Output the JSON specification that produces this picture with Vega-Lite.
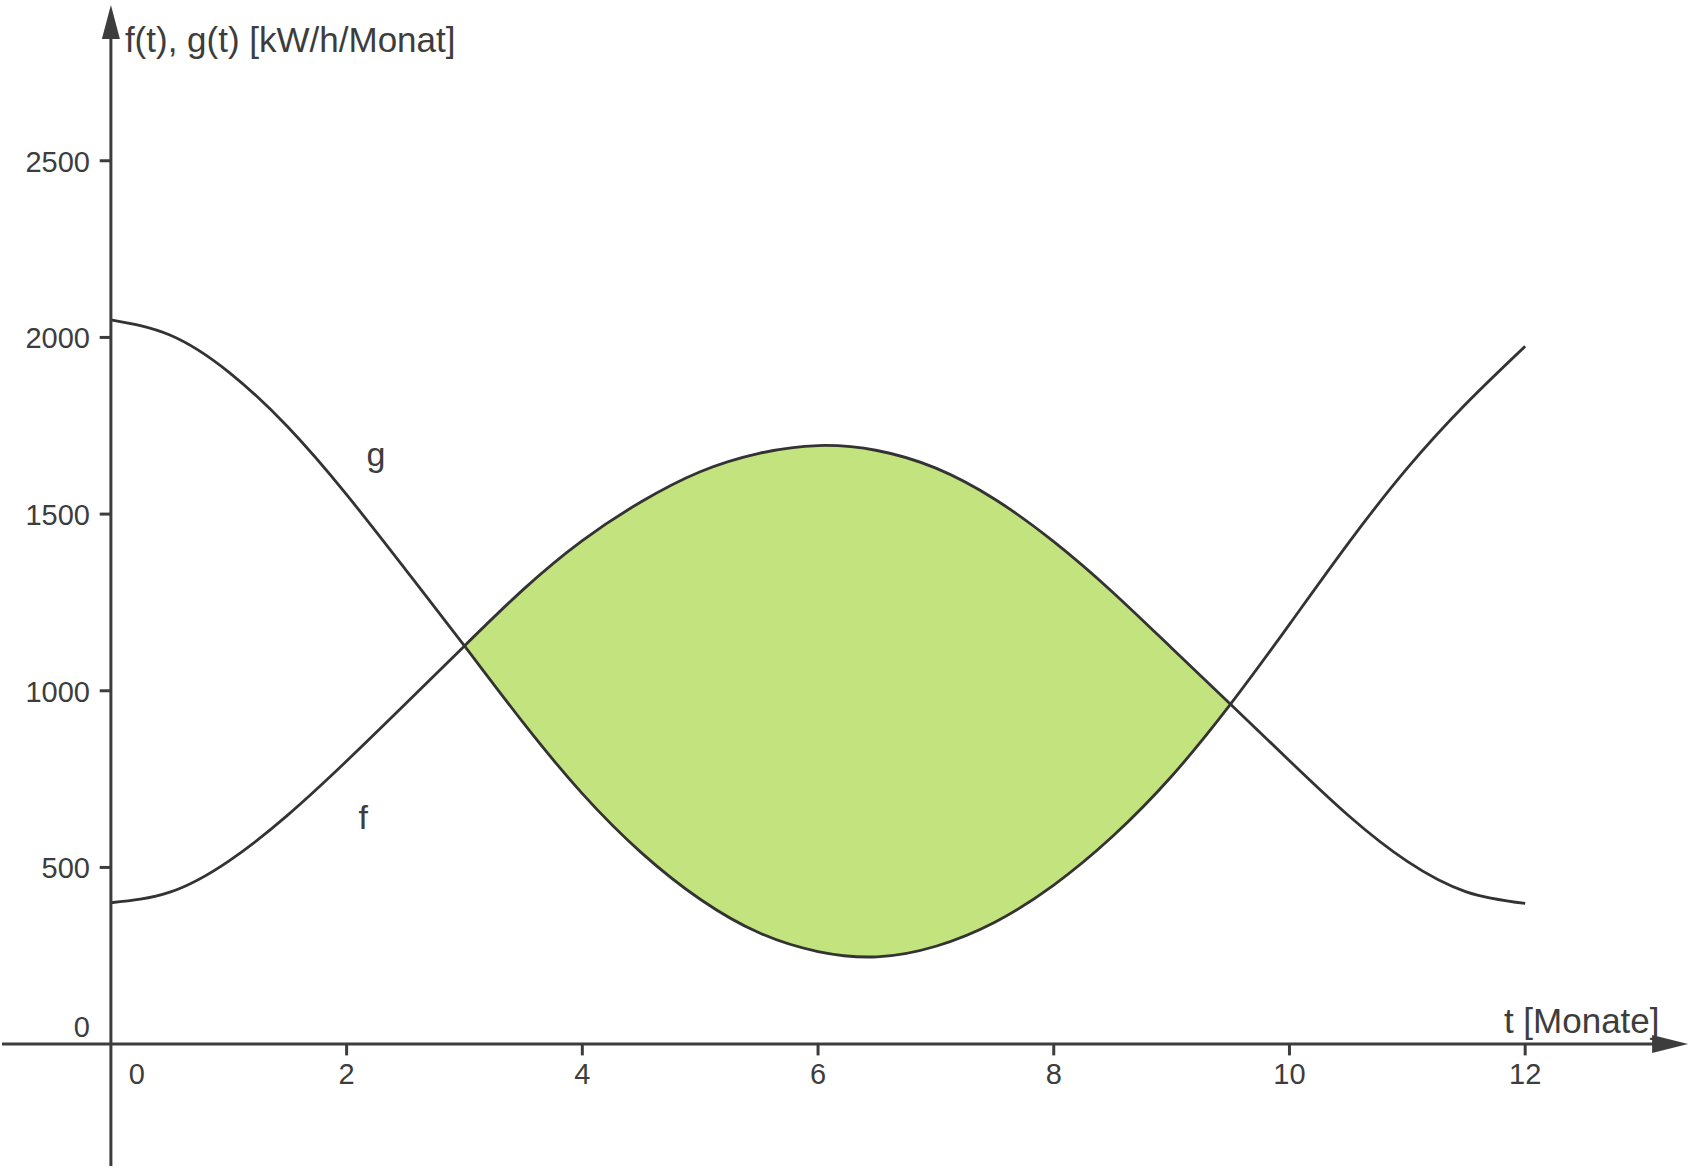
{
  "$schema": "https://vega.github.io/schema/vega-lite/v6.json",
  "width": 1691,
  "height": 1168,
  "padding": 0,
  "autosize": {"type": "fit", "contains": "padding"},
  "background": "white",
  "view": {"stroke": null},
  "config": {"font": "Liberation Sans"},
  "datasets": {
    "curves": [
      {"t": 0, "f": 400, "g": 2050},
      {"t": 0.5, "f": 430, "g": 2007},
      {"t": 1, "f": 518, "g": 1902},
      {"t": 1.5, "f": 648, "g": 1747},
      {"t": 2, "f": 801, "g": 1555},
      {"t": 2.5, "f": 963, "g": 1343},
      {"t": 3, "f": 1127, "g": 1127},
      {"t": 3.5, "f": 1287, "g": 909},
      {"t": 4, "f": 1425, "g": 709},
      {"t": 4.5, "f": 1535, "g": 542},
      {"t": 5, "f": 1620, "g": 410},
      {"t": 5.5, "f": 1672, "g": 315},
      {"t": 6, "f": 1694, "g": 262},
      {"t": 6.5, "f": 1680, "g": 247},
      {"t": 7, "f": 1630, "g": 277},
      {"t": 7.5, "f": 1542, "g": 345},
      {"t": 8, "f": 1422, "g": 450},
      {"t": 8.5, "f": 1279, "g": 588},
      {"t": 9, "f": 1121, "g": 758},
      {"t": 9.5, "f": 962, "g": 962},
      {"t": 10, "f": 802, "g": 1188},
      {"t": 10.5, "f": 647, "g": 1418},
      {"t": 11, "f": 517, "g": 1630},
      {"t": 11.5, "f": 431, "g": 1813},
      {"t": 12, "f": 398, "g": 1975}
    ],
    "yticks": [{"v": 500}, {"v": 1000}, {"v": 1500}, {"v": 2000}, {"v": 2500}],
    "xticks": [{"t": 2}, {"t": 4}, {"t": 6}, {"t": 8}, {"t": 10}, {"t": 12}],
    "names": [
      {"t": 2.25, "v": 1636, "name": "g"},
      {"t": 2.14, "v": 610, "name": "f"}
    ]
  },
  "encoding": {
    "x": {"type": "quantitative", "scale": {"domain": [-0.924, 13.407], "nice": false, "zero": false}, "axis": null},
    "y": {"type": "quantitative", "scale": {"domain": [-345, 2955], "nice": false, "zero": false}, "axis": null}
  },
  "layer": [
    {
      "data": {"name": "curves"},
      "transform": [{"filter": "datum.t >= 3 && datum.t <= 9.5"}],
      "mark": {"type": "area", "color": "#c3e37e", "interpolate": "natural"},
      "encoding": {
        "x": {"field": "t", "type": "quantitative"},
        "y": {"field": "f", "type": "quantitative"},
        "y2": {"field": "g"}
      }
    },
    {
      "data": {"name": "curves"},
      "mark": {"type": "line", "color": "#333333", "strokeWidth": 2.8, "interpolate": "natural"},
      "encoding": {
        "x": {"field": "t", "type": "quantitative"},
        "y": {"field": "f", "type": "quantitative"}
      }
    },
    {
      "data": {"name": "curves"},
      "mark": {"type": "line", "color": "#333333", "strokeWidth": 2.8, "interpolate": "natural"},
      "encoding": {
        "x": {"field": "t", "type": "quantitative"},
        "y": {"field": "g", "type": "quantitative"}
      }
    },
    {
      "data": {"values": [{}]},
      "mark": {"type": "rule", "color": "#3d3d3d", "strokeWidth": 3},
      "encoding": {
        "x": {"datum": 0},
        "y": {"datum": -345},
        "y2": {"datum": 2880}
      }
    },
    {
      "data": {"values": [{}]},
      "mark": {"type": "rule", "color": "#3d3d3d", "strokeWidth": 3},
      "encoding": {
        "x": {"datum": -0.924},
        "x2": {"datum": 13.2},
        "y": {"datum": 0}
      }
    },
    {
      "data": {"values": [{}]},
      "mark": {"type": "point", "shape": "M0,-1L-0.53,1L0.53,1Z", "size": 1156, "filled": true, "opacity": 1, "color": "#3d3d3d"},
      "encoding": {
        "x": {"datum": 0},
        "y": {"datum": 2893}
      }
    },
    {
      "data": {"values": [{}]},
      "mark": {"type": "point", "shape": "M1,0L-1,-0.5L-1,0.5Z", "size": 1296, "filled": true, "opacity": 1, "color": "#3d3d3d"},
      "encoding": {
        "x": {"datum": 13.23},
        "y": {"datum": 0}
      }
    },
    {
      "data": {"name": "yticks"},
      "mark": {"type": "rule", "color": "#3d3d3d", "strokeWidth": 3},
      "encoding": {
        "x": {"datum": -0.095},
        "x2": {"datum": 0},
        "y": {"field": "v", "type": "quantitative"}
      }
    },
    {
      "data": {"name": "yticks"},
      "mark": {"type": "text", "align": "right", "baseline": "middle", "dx": -21, "dy": 2, "fontSize": 29, "color": "#3d3d3d"},
      "encoding": {
        "x": {"datum": 0},
        "y": {"field": "v", "type": "quantitative"},
        "text": {"field": "v", "type": "nominal"}
      }
    },
    {
      "data": {"name": "xticks"},
      "mark": {"type": "rule", "color": "#3d3d3d", "strokeWidth": 3},
      "encoding": {
        "x": {"field": "t", "type": "quantitative"},
        "y": {"datum": -32},
        "y2": {"datum": 0}
      }
    },
    {
      "data": {"name": "xticks"},
      "mark": {"type": "text", "align": "center", "baseline": "middle", "dy": 31, "fontSize": 29, "color": "#3d3d3d"},
      "encoding": {
        "x": {"field": "t", "type": "quantitative"},
        "y": {"datum": 0},
        "text": {"field": "t", "type": "nominal"}
      }
    },
    {
      "data": {"values": [{"label": "0"}]},
      "mark": {"type": "text", "align": "center", "baseline": "middle", "dx": 26, "dy": 31, "fontSize": 29, "color": "#3d3d3d"},
      "encoding": {
        "x": {"datum": 0},
        "y": {"datum": 0},
        "text": {"field": "label", "type": "nominal"}
      }
    },
    {
      "data": {"values": [{"label": "0"}]},
      "mark": {"type": "text", "align": "right", "baseline": "middle", "dx": -21, "dy": -16, "fontSize": 29, "color": "#3d3d3d"},
      "encoding": {
        "x": {"datum": 0},
        "y": {"datum": 0},
        "text": {"field": "label", "type": "nominal"}
      }
    },
    {
      "data": {"values": [{"label": "t [Monate]"}]},
      "mark": {"type": "text", "align": "right", "baseline": "alphabetic", "dy": -11, "fontSize": 35, "color": "#3d3d3d"},
      "encoding": {
        "x": {"datum": 13.14},
        "y": {"datum": 0},
        "text": {"field": "label", "type": "nominal"}
      }
    },
    {
      "data": {"values": [{"label": "f(t), g(t) [kW/h/Monat]"}]},
      "mark": {"type": "text", "align": "left", "baseline": "alphabetic", "dx": 14, "fontSize": 35, "color": "#3d3d3d"},
      "encoding": {
        "x": {"datum": 0},
        "y": {"datum": 2808},
        "text": {"field": "label", "type": "nominal"}
      }
    },
    {
      "data": {"name": "names"},
      "mark": {"type": "text", "align": "center", "baseline": "alphabetic", "fontSize": 34, "color": "#3d3d3d"},
      "encoding": {
        "x": {"field": "t", "type": "quantitative"},
        "y": {"field": "v", "type": "quantitative"},
        "text": {"field": "name", "type": "nominal"}
      }
    }
  ]
}
